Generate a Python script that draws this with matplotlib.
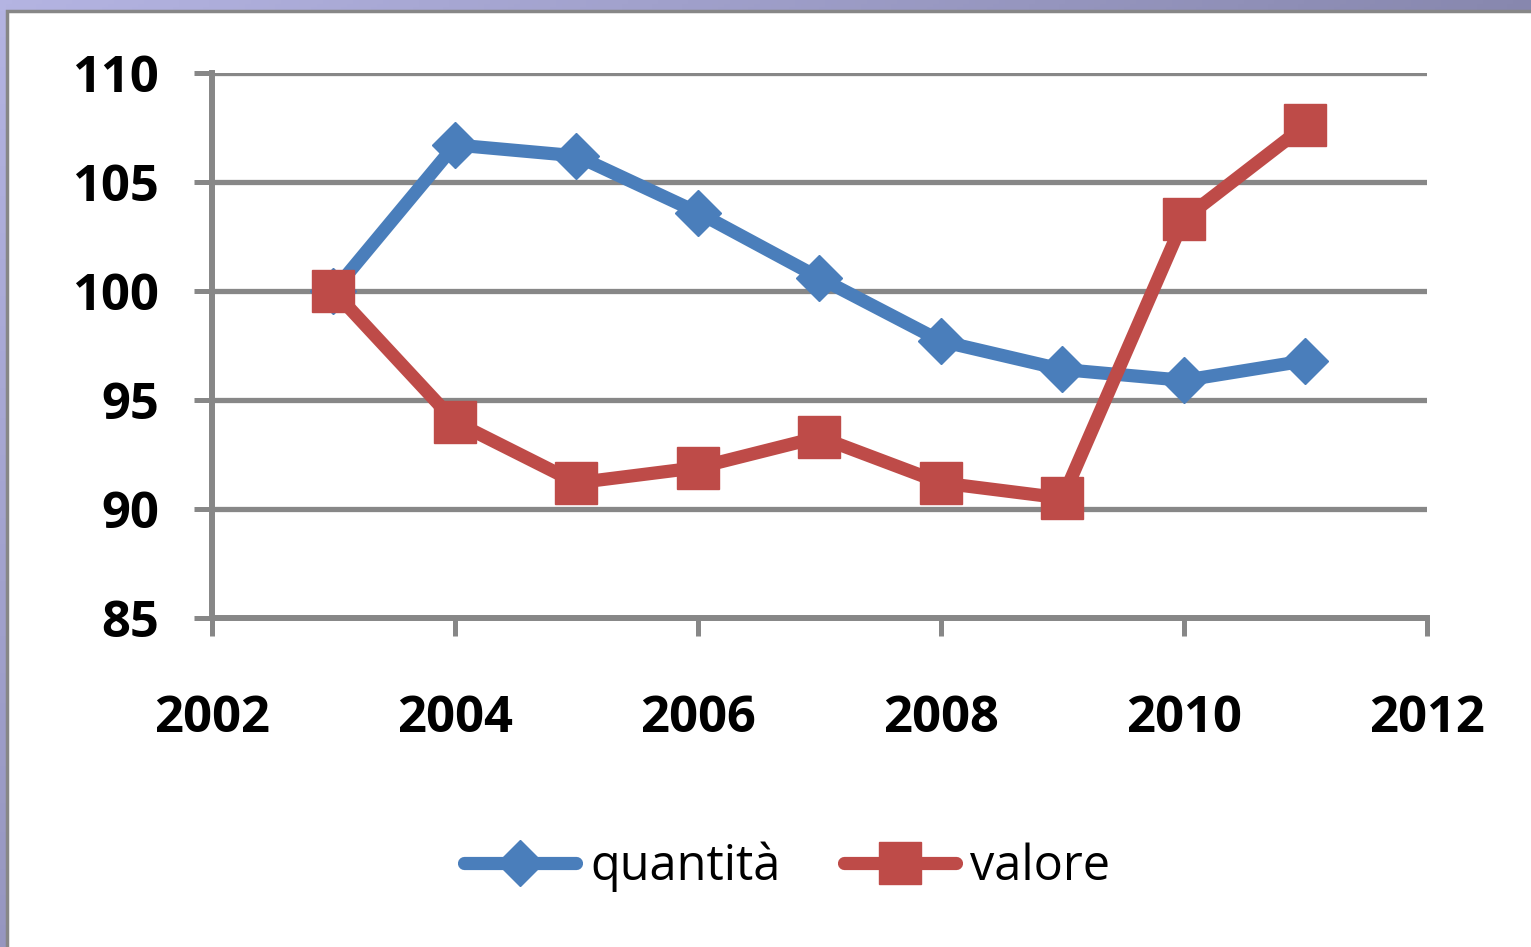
import matplotlib.pyplot as plt
import numpy as np
from matplotlib.patches import Rectangle

# data
years = [2003, 2004, 2005, 2006, 2007, 2008, 2009, 2010, 2011]
quantita = [100.0, 106.7, 106.2, 103.6, 100.6, 97.7, 96.4, 95.9, 96.8]
valore = [100.0, 94.0, 91.2, 91.9, 93.3, 91.2, 90.5, 103.3, 107.6]
x_ticks = [2002, 2004, 2006, 2008, 2010, 2012]
y_ticks = [85, 90, 95, 100, 105, 110]

blue = '#4a7ebb'
red = '#be4b48'
grey = '#878787'

W, H = 1531, 947
fig = plt.figure(figsize=(W / 100, H / 100), dpi=100)

# slide frame: purple gradient band on top / left
bg = fig.add_axes([0, 0, 1, 1])
grad = np.linspace(0, 1, 256)
gx, gy = np.meshgrid(grad, grad)
bg.imshow(0.6 * gx + 0.4 * gy, cmap=plt.cm.colors.LinearSegmentedColormap.from_list(
    'frame', ['#b4b4e2', '#6a6a8c']), extent=[0, W, H, 0], aspect='auto')
bg.add_patch(Rectangle((7, 11), W, H, facecolor='white', edgecolor=grey, linewidth=2.5))
bg.set_xlim(0, W)
bg.set_ylim(H, 0)
bg.axis('off')

font = 'Open Sans'
ax = fig.add_axes([212 / W, 1 - 618 / H, (1427 - 212) / W, (618 - 73) / H])
ax.patch.set_alpha(0)

for y in y_ticks[1:]:
    ax.axhline(y, color=grey, linewidth=3.8, zorder=1)

ax.plot(years, quantita, color=blue, linewidth=9.5, marker='D', markersize=23,
        solid_capstyle='round', label='quantità', zorder=3)
ax.plot(years, valore, color=red, linewidth=9.5, marker='s', markersize=30,
        solid_capstyle='round', label='valore', zorder=4)

ax.set_xlim(2002, 2012)
ax.set_ylim(85, 110)
ax.set_xticks(x_ticks)
ax.set_yticks(y_ticks)

for side in ['top', 'right']:
    ax.spines[side].set_visible(False)
for side in ['left', 'bottom']:
    ax.spines[side].set_color(grey)
    ax.spines[side].set_linewidth(4.3)

ax.tick_params(axis='both', color=grey, width=3.6, length=13, direction='out')
ax.tick_params(axis='x', pad=42)
ax.tick_params(axis='y', pad=25)
for lab in ax.get_xticklabels() + ax.get_yticklabels():
    lab.set_fontfamily(font)
    lab.set_fontweight('bold')
    lab.set_fontsize(36.5)

ax.legend(loc='center', bbox_to_anchor=(787 / W, 1 - 867 / H),
          bbox_transform=fig.transFigure, ncol=2, frameon=False,
          prop={'family': font, 'size': 35}, handlelength=2.3,
          columnspacing=1.3, handletextpad=0.3)

plt.savefig('out.png', dpi=100)
